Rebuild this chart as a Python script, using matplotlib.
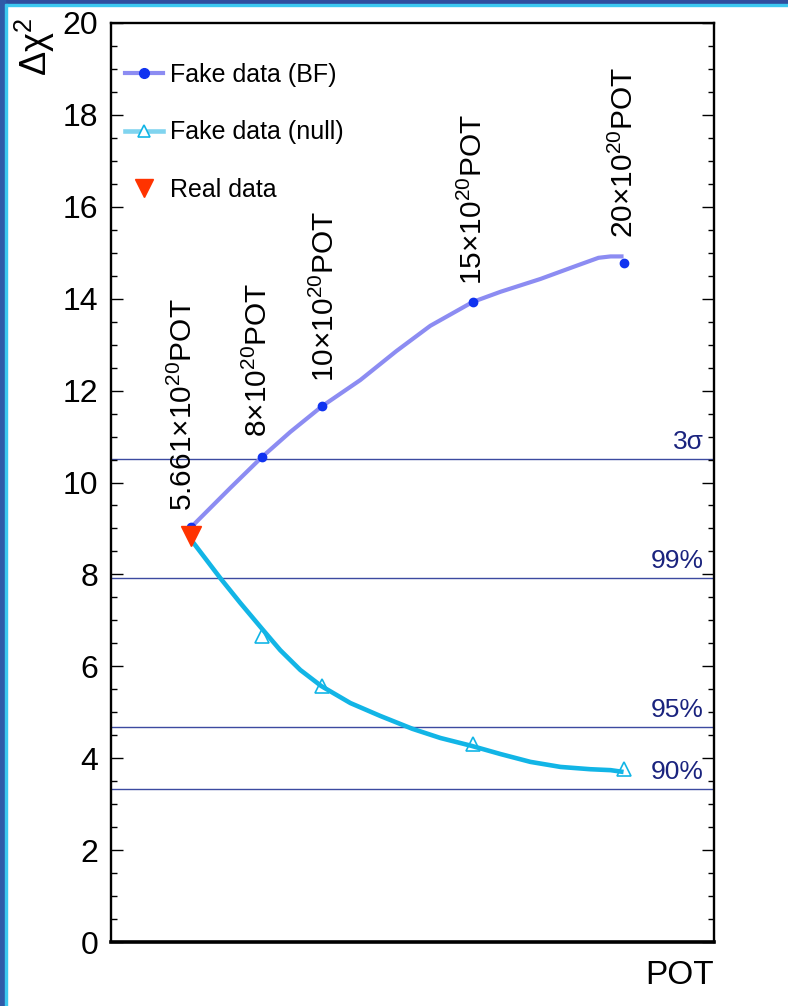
import matplotlib
matplotlib.use("Agg")
import matplotlib.pyplot as plt
from matplotlib.lines import Line2D
from matplotlib.patches import Rectangle

plt.rcParams["font.family"] = ["Liberation Sans", "DejaVu Sans"]
plt.rcParams["mathtext.fontset"] = "custom"
plt.rcParams["mathtext.rm"] = "Liberation Sans"

# exposures (x10^20 POT) and delta chi2 at each
pot = [5.661, 8, 10, 15, 20]
pot_labels = ["5.661", "8", "10", "15", "20"]
bf_points = [9.03, 10.55, 11.66, 13.93, 14.78]
null_pot = [8, 10, 15, 20]
null_points = [6.66, 5.58, 4.30, 3.76]
real_pot = [5.661]
real_point = [8.84]

# smoothed curves through the fake-data results
bf_curve_x = [5.661, 6.955, 8.0, 8.947, 10.0, 11.27, 12.465, 13.59, 15.0,
              15.917, 17.245, 18.41, 19.17, 19.57, 20.0]
bf_curve_y = [9.03, 9.88, 10.55, 11.10, 11.66, 12.23, 12.86, 13.41, 13.93,
              14.15, 14.43, 14.71, 14.89, 14.92, 14.92]
null_curve_x = [5.661, 6.624, 7.287, 8.017, 8.615, 9.279, 9.976, 10.94, 11.93,
                12.995, 13.925, 14.95, 15.92, 16.91, 17.91, 18.90, 19.57, 20.0]
null_curve_y = [8.75, 7.92, 7.38, 6.81, 6.35, 5.92, 5.57, 5.20, 4.92,
                4.64, 4.44, 4.27, 4.09, 3.92, 3.81, 3.76, 3.74, 3.70]

# label placement (bottom of rotated text, baseline x)
label_x = [5.69, 8.18, 10.38, 15.3, 20.3]
label_y = [9.37, 10.99, 12.19, 14.30, 15.32]

# critical values
cl_names = ["3σ", "99%", "95%", "90%"]
cl_values = [10.51, 7.92, 4.68, 3.33]

fig = plt.figure(figsize=(7.88, 10.06), dpi=100)
ax = fig.add_axes([111 / 788, 64 / 1006, 603 / 788, 919 / 1006])

bf_line = "#8c8cf2"
bf_mark = "#1033f0"
null_col = "#12b5e6"
cl_col = "#3c4aa0"

for v, name in zip(cl_values, cl_names):
    ax.axhline(v, color=cl_col, lw=1.0, zorder=1)
    ax.annotate(name, xy=(22.65, v), xytext=(0, 3.5), textcoords="offset points",
                ha="right", va="bottom", fontsize=19, color="#1a237e")

ax.plot(bf_curve_x, bf_curve_y, color=bf_line, lw=3, solid_joinstyle="round",
        solid_capstyle="butt", zorder=2)
ax.plot(null_curve_x, null_curve_y, color=null_col, lw=3.3, solid_joinstyle="round",
        solid_capstyle="butt", zorder=2)
ax.plot(pot, bf_points, "o", color=bf_mark, ms=6, zorder=3)
ax.plot(null_pot, null_points, "^", mfc="none", mec=null_col, mew=1.2, ms=10, zorder=3)
ax.plot(real_pot, real_point, "v", color="#ff3300", ms=14, zorder=4)

for lx, ly, lab in zip(label_x, label_y, pot_labels):
    ax.text(lx, ly, lab + r"$\times$10$^{20}$POT", rotation=90, rotation_mode="anchor",
            ha="left", va="baseline", fontsize=21.5)

ax.set_xlim(3, 23)
ax.set_ylim(0, 20)
ax.set_xticks([])
ax.set_yticks(range(0, 21, 2))
ax.set_yticks([v / 2 for v in range(0, 41)], minor=True)
ax.tick_params(axis="y", which="both", direction="in", left=True, right=True,
               labelsize=23, pad=9, width=1.0)
ax.tick_params(axis="y", which="major", length=8.5)
ax.tick_params(axis="y", which="minor", length=4.3)
for side in ["left", "top", "right"]:
    ax.spines[side].set_linewidth(1.7)
ax.spines["bottom"].set_linewidth(2.6)

ax.text(1.0, -0.02, "POT", transform=ax.transAxes, ha="right", va="top", fontsize=24)
fig.text(35 / 788, 1 - 18 / 1006, r"Δχ$^2$", rotation=90, ha="center", va="top", fontsize=26)

handles = [
    Line2D([], [], color=bf_line, lw=3, marker="o", mfc=bf_mark, mec=bf_mark, ms=7),
    Line2D([], [], color="#80d4ef", lw=3.3, marker="^", mfc="white", mec=null_col, mew=1.2, ms=9),
    Line2D([], [], ls="none", marker="v", color="#ff3300", ms=13),
]
ax.legend(handles, ["Fake data (BF)", "Fake data (null)", "Real data"],
          loc="upper left", bbox_to_anchor=(0.023, 0.957), frameon=False,
          fontsize=18, handlelength=1.52, handletextpad=0.28, labelspacing=1.35,
          borderaxespad=0, borderpad=0)

# border of the slide frame
fig.patches.append(Rectangle((0, 1 - 4 / 1006), 1, 4 / 1006, transform=fig.transFigure,
                             color="#2f4e9e", zorder=10))
fig.patches.append(Rectangle((6 / 788, 1 - 6 / 1006), 1, 2 / 1006, transform=fig.transFigure,
                             color="#3cc8f0", zorder=10))
fig.patches.append(Rectangle((0, 0), 5 / 788, 1, transform=fig.transFigure,
                             color="#2f5aa8", zorder=10))
fig.patches.append(Rectangle((5 / 788, 0), 2 / 788, 1 - 4 / 1006, transform=fig.transFigure,
                             color="#3cc8f0", zorder=10))

fig.savefig("out.png", dpi=100)
